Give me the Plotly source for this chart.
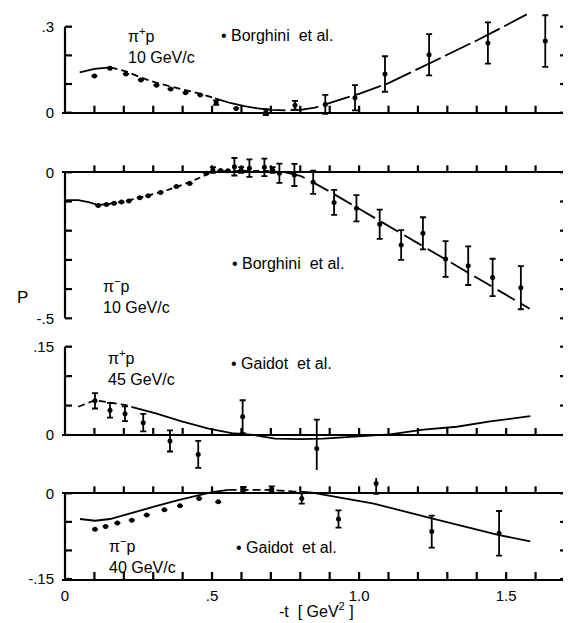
import plotly.graph_objects as go

# ---------------- data ----------------
X_MAX = 1.707
x_label_vals = [0.0, 0.5, 1.0, 1.5]
x_label_text = ["0", ".5", "1.0", "1.5"]
x_minor_vals = [round(0.1 * i, 1) for i in range(1, 17)]

# Panel 1: pi+ p, 10 GeV/c (Borghini et al.)
p1_x = [0.10, 0.153, 0.207, 0.258, 0.311, 0.359, 0.41, 0.46, 0.514, 0.582, 0.683, 0.782,
        0.885, 0.986, 1.088, 1.238, 1.438, 1.633]
p1_y = [0.128, 0.155, 0.135, 0.114, 0.096, 0.083, 0.070, 0.062, 0.035, 0.015, 0.002, 0.026,
        0.029, 0.052, 0.135, 0.202, 0.243, 0.250]
p1_err = [0, 0, 0, 0, 0, 0, 0, 0, 0.008, 0, 0.01, 0.015,
          0.033, 0.044, 0.062, 0.072, 0.072, 0.09]
p1_curve_x = [0.05, 0.10, 0.155, 0.21, 0.26, 0.31, 0.36, 0.41, 0.46, 0.51, 0.565, 0.61, 0.655,
              0.70, 0.75, 0.80, 0.85, 0.90, 1.0, 1.1, 1.2, 1.3, 1.4, 1.5, 1.57]
p1_curve_y = [0.141, 0.153, 0.158, 0.143, 0.122, 0.105, 0.091, 0.078, 0.066, 0.050, 0.033, 0.023,
              0.015, 0.010, 0.008, 0.010, 0.018, 0.034, 0.066, 0.103, 0.153, 0.203, 0.252, 0.305, 0.343]
p1_curve_segments = [(0, 2, "solid"), (2, 9, "7px,4px"), (9, 12, "solid"), (12, 24, "28px,5px")]

# Panel 2: pi- p, 10 GeV/c (Borghini et al.)
p2_x = [0.113, 0.141, 0.167, 0.192, 0.217, 0.254, 0.283, 0.325, 0.379, 0.424, 0.480, 0.503,
        0.529, 0.554, 0.576, 0.599, 0.627, 0.678, 0.706, 0.729, 0.78, 0.844, 0.915, 0.991,
        1.07, 1.143, 1.217, 1.294, 1.371, 1.454, 1.55]
p2_y = [-0.114, -0.110, -0.106, -0.102, -0.098, -0.087, -0.080, -0.069, -0.049, -0.038, -0.003, 0.008,
        0.006, 0.005, 0.019, 0.008, 0.014, 0.017, 0.008, -0.003, -0.009, -0.034, -0.103, -0.123,
        -0.178, -0.249, -0.209, -0.297, -0.320, -0.360, -0.395]
p2_err = [0, 0, 0, 0, 0, 0, 0, 0, 0, 0, 0, 0.01,
          0, 0, 0.03, 0.01, 0.03, 0.03, 0.01, 0.033, 0.038, 0.04, 0.043, 0.045,
          0.05, 0.051, 0.055, 0.061, 0.066, 0.064, 0.074]
p2_curve_x = [0.0, 0.045, 0.08, 0.113, 0.15, 0.2, 0.25, 0.3, 0.35, 0.4, 0.45, 0.5, 0.55, 0.6,
              0.65, 0.7, 0.75, 0.8, 0.85, 0.9, 1.0, 1.1, 1.2, 1.3, 1.4, 1.5, 1.58]
p2_curve_y = [-0.095, -0.095, -0.102, -0.112, -0.108, -0.100, -0.088, -0.075, -0.060, -0.043, -0.022,
              0.000, 0.004, 0.005, 0.005, 0.004, 0.000, -0.012, -0.038, -0.066, -0.125, -0.184,
              -0.243, -0.302, -0.361, -0.420, -0.467]
p2_curve_segments = [(0, 3, "solid"), (3, 16, "6px,4px"), (16, 26, "20px,7px")]

# Panel 3: pi+ p, 45 GeV/c (Gaidot et al.)
p3_x = [0.102, 0.153, 0.204, 0.266, 0.357, 0.453, 0.604, 0.856]
p3_y = [0.058, 0.042, 0.036, 0.021, -0.010, -0.033, 0.031, -0.023]
p3_err = [0.013, 0.0125, 0.0125, 0.015, 0.018, 0.023, 0.028, 0.049]
p3_curve_x = [0.045, 0.102, 0.153, 0.204, 0.232, 0.306, 0.397, 0.488, 0.567, 0.64, 0.714, 0.80,
              0.878, 0.992, 1.105, 1.219, 1.332, 1.446, 1.582]
p3_curve_y = [0.048, 0.059, 0.055, 0.051, 0.047, 0.037, 0.023, 0.011, 0.003, 0.0, -0.006, -0.007,
              -0.006, -0.003, 0.001, 0.009, 0.014, 0.023, 0.032]
p3_curve_segments = [(0, 4, "7px,4px"), (4, 18, "solid")]

# Panel 4: pi- p, 40 GeV/c (Gaidot et al.)
p4_x = [0.102, 0.138, 0.178, 0.227, 0.278, 0.338, 0.391, 0.456, 0.521, 0.607, 0.703, 0.805,
        0.93, 1.058, 1.247, 1.476]
p4_y = [-0.063, -0.058, -0.052, -0.047, -0.038, -0.029, -0.022, -0.009, -0.015, 0.006, 0.007, -0.009,
        -0.045, 0.017, -0.067, -0.070]
p4_err = [0, 0, 0, 0, 0, 0, 0, 0, 0, 0.005, 0.005, 0.009,
          0.015, 0.018, 0.028, 0.039]
p4_curve_x = [0.051, 0.102, 0.153, 0.227, 0.306, 0.385, 0.453, 0.50, 0.556, 0.60, 0.70, 0.78, 0.83,
              0.90, 1.05, 1.247, 1.476, 1.582]
p4_curve_y = [-0.045, -0.048, -0.045, -0.035, -0.023, -0.012, -0.003, 0.002, 0.006, 0.006, 0.006,
              0.003, 0.002, -0.004, -0.018, -0.044, -0.073, -0.084]
p4_curve_segments = [(0, 8, "solid"), (8, 12, "8px,4px"), (12, 17, "solid")]

# y ticks / labels per panel
p1_yticks = [0.0, 0.1, 0.2, 0.3]
p1_ytext = ["0", "", "", ".3"]
p2_yticks = [0.0, -0.1, -0.2, -0.3, -0.4, -0.5]
p2_ytext = ["0", "", "", "", "", "-.5"]
p3_yticks = [0.0, 0.05, 0.10, 0.15]
p3_ytext = ["0", "", "", ".15"]
p4_yticks = [0.0, -0.05, -0.10, -0.15]
p4_ytext = ["0", "", "", "-.15"]

# ---------------- geometry (page pixels; the page body has an 8px margin) ----------------
OFF = 8
PAGE_W, PAGE_H = 571, 623
W, H = PAGE_W - OFF, PAGE_H - OFF
X0_PX, SCALE_X = 65.0, 294.1
PLOT_L, PLOT_R, PLOT_T, PLOT_B = 62, 570, 10, 579
L, R, T, B = PLOT_L - OFF, PAGE_W - PLOT_R, PLOT_T - OFF, PAGE_H - PLOT_B
plot_h = PLOT_B - PLOT_T
plot_w = PLOT_R - PLOT_L
X_RANGE = [(PLOT_L - X0_PX) / SCALE_X, (PLOT_R - X0_PX) / SCALE_X]
TICK_PX = 7
LW = 1.6
FLW = 2.2
FONT = "Liberation Sans, Arial, sans-serif"
FS = 15
LFS = 16


def py2paper(py):
    return (PLOT_B - py) / plot_h


def px2paper(px):
    return (px - PLOT_L) / plot_w


def axis_geom(dom_top_px, dom_bot_px, v_a, py_a, v_b, py_b):
    scale = (py_b - py_a) / (v_a - v_b)
    top = v_a + (py_a - dom_top_px) / scale
    bot = v_b - (dom_bot_px - py_b) / scale
    return [max(0.0, py2paper(dom_bot_px)), min(1.0, py2paper(dom_top_px))], [bot, top], scale


panels = [
    dict(ax="y", key="yaxis", geom=axis_geom(10, 136, 0.3, 26.7, 0.0, 112.7),
         ticks=p1_yticks, text=p1_ytext, frame=(0.0, 0.3), bottom_line=False,
         x=p1_x, y=p1_y, err=p1_err, cx=p1_curve_x, cy=p1_curve_y, seg=p1_curve_segments),
    dict(ax="y2", key="yaxis2", geom=axis_geom(140, 336, 0.0, 172.3, -0.5, 318.3),
         ticks=p2_yticks, text=p2_ytext, frame=(-0.5, 0.0), bottom_line=False,
         x=p2_x, y=p2_y, err=p2_err, cx=p2_curve_x, cy=p2_curve_y, seg=p2_curve_segments),
    dict(ax="y3", key="yaxis3", geom=axis_geom(340, 470, 0.15, 346.7, 0.0, 435.0),
         ticks=p3_yticks, text=p3_ytext, frame=(0.0, 0.15), bottom_line=False,
         x=p3_x, y=p3_y, err=p3_err, cx=p3_curve_x, cy=p3_curve_y, seg=p3_curve_segments),
    dict(ax="y4", key="yaxis4", geom=axis_geom(478, 579, 0.0, 493.3, -0.15, 579.0),
         ticks=p4_yticks, text=p4_ytext, frame=(-0.15, 0.0), bottom_line=True,
         x=p4_x, y=p4_y, err=p4_err, cx=p4_curve_x, cy=p4_curve_y, seg=p4_curve_segments),
]

fig = go.Figure()
layout_axes = {}

for p in panels:
    dom, rng, sy = p["geom"]
    layout_axes[p["key"]] = dict(
        domain=dom, range=rng, anchor="x", tickvals=p["ticks"], ticktext=p["text"],
        ticks="outside", ticklen=4, tickcolor="rgba(0,0,0,0)",
        showline=False, showgrid=False, zeroline=True, zerolinecolor="black", zerolinewidth=LW,
        tickfont=dict(family=FONT, size=FS, color="black"),
    )
    lo, hi = p["frame"]
    tx = TICK_PX / SCALE_X
    ty = TICK_PX / sy
    # frame decoration as individual 2-point strokes
    strokes = [((0.0, 0.0), (lo, hi)), ((X_MAX, X_MAX), (lo, hi))]
    for v in p["ticks"]:
        strokes.append(((0.0, tx), (v, v)))
        strokes.append(((X_MAX - tx, X_MAX), (v, v)))
    bases = [0.0] + ([lo] if p["bottom_line"] else [])
    for b0 in bases:
        for v in x_minor_vals:
            strokes.append(((v, v), (b0, b0 + ty)))
    for sx, syy in strokes:
        fig.add_trace(go.Scatter(x=list(sx), y=list(syy), mode="lines", yaxis=p["ax"], xaxis="x",
                                 line=dict(color="black", width=FLW), showlegend=False))
    # theory curve
    for i0, i1, dash in p["seg"]:
        fig.add_trace(go.Scatter(
            x=p["cx"][i0:i1 + 1], y=p["cy"][i0:i1 + 1], mode="lines", yaxis=p["ax"], xaxis="x",
            line=dict(color="black", width=1.8, dash=dash), showlegend=False))
    # data
    fig.add_trace(go.Scatter(
        x=p["x"], y=p["y"], mode="markers", yaxis=p["ax"], xaxis="x", cliponaxis=False,
        marker=dict(color="black", size=5),
        error_y=dict(type="data", array=p["err"], color="black", thickness=1.8, width=3),
        showlegend=False))

annotations = []


def label(text, px, py, anchor="left", size=LFS):
    annotations.append(dict(text=text, xref="paper", yref="paper", x=px2paper(px), y=py2paper(py),
                            xanchor=anchor, yanchor="middle", showarrow=False, align="left",
                            font=dict(family=FONT, size=size, color="black")))


label("π<sup>+</sup>p<br>10 GeV/c", 126, 46)
label("• Borghini  et al.", 219, 35)
label("• Borghini  et al.", 230, 263)
label("π<sup>−</sup>p<br>10 GeV/c", 101, 296)
label("π<sup>+</sup>p<br>45 GeV/c", 106, 367)
label("• Gaidot  et al.", 229, 363)
label("π<sup>−</sup>p<br>40 GeV/c", 107, 555)
label("• Gaidot  et al.", 234, 547)
label("P", 22, 297, anchor="center", size=17)
label("-t  [ GeV<sup>2</sup> ]", 316, 610, anchor="center", size=16)

fig.update_layout(
    width=W, height=H, margin=dict(l=L, r=R, t=T, b=B),
    paper_bgcolor="white", plot_bgcolor="white", showlegend=False,
    xaxis=dict(domain=[0, 1], range=X_RANGE, anchor="y4", tickvals=x_label_vals,
               ticktext=x_label_text, ticks="outside", ticklen=2, tickcolor="rgba(0,0,0,0)",
               showline=True, linecolor="black", linewidth=LW, showgrid=False, zeroline=False,
               tickfont=dict(family=FONT, size=FS, color="black")),
    annotations=annotations,
    **layout_axes,
)

fig.write_html("out.html")
